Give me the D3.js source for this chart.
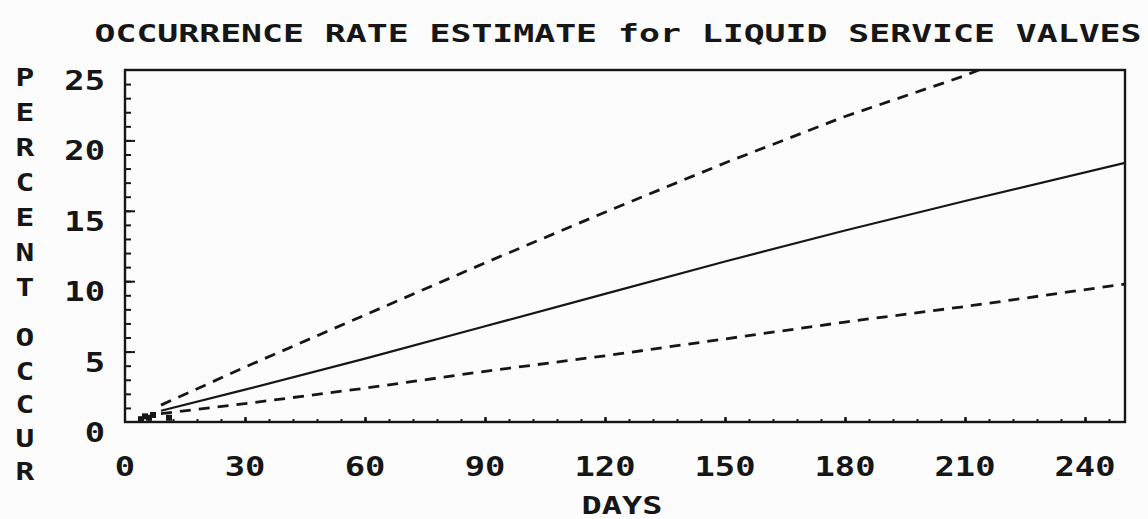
<!DOCTYPE html>
<html>
<head>
<meta charset="utf-8">
<script src="https://cdn.jsdelivr.net/npm/d3@7"></script>
<style>
	html, body { margin: 0; padding: 0; background: #fcfcfc; }
	svg text { font-family: "DejaVu Sans Mono", "Liberation Mono", monospace; font-weight: bold; fill: #161616; }
</style>
</head>
<body>
<div id="chart"></div>
<script>
// values
const days = [9, 30, 60, 90, 120, 150, 180, 210, 250];
const estimate = [0.8, 2.3, 4.5, 6.8, 9.1, 11.4, 13.6, 15.7, 18.4];
const upperBound = [1.2, 3.9, 7.6, 11.3, 14.9, 18.4, 21.7, 24.6, 29.3];
const lowerBound = [0.6, 1.3, 2.4, 3.6, 4.7, 5.9, 7.1, 8.2, 9.8];
// cluster of observed points near the origin
const obsDays = [4, 5, 6, 7, 11];
const obsValues = [0.2, 0.4, 0.3, 0.5, 0.3];

const xTicks = [0, 30, 60, 90, 120, 150, 180, 210, 240];
const yTicks = [0, 5, 10, 15, 20, 25];
const titleText = "OCCURRENCE RATE ESTIMATE for LIQUID SERVICE VALVES";
const yLabel1 = "PERCENT";
const yLabel2 = "OCCUR";
const xLabel = "DAYS";

const width = 1148, height = 519;
const margin = {top: 70, right: 23, bottom: 97, left: 125};
const ink = "#161616";

var svg = d3.select("#chart").append("svg")
	.attr("width", width)
	.attr("height", height);

var x = d3.scaleLinear().domain([0, 250]).range([margin.left, width - margin.right]);
var y = d3.scaleLinear().domain([0, 25]).range([height - margin.bottom, margin.top]);

// plotter style wide text
function wideText(str, tx, ty, size, sx, anchor) {
	return svg.append("text")
		.attr("transform", "translate(" + tx + "," + ty + ") scale(" + sx + ",1)")
		.attr("font-size", size)
		.attr("text-anchor", anchor || "middle")
		.text(str);
}

wideText(titleText, 618, 42, 24, 1.45);
wideText(xLabel, 622, 514, 24, 1.4);

// stacked y label
yLabel1.split("").forEach((c, i) => wideText(c, 25, 86 + i * 35, 24, 1.3));
yLabel2.split("").forEach((c, i) => wideText(c, 25, 346 + i * 33.5, 24, 1.3));

svg.append("defs").append("clipPath").attr("id", "plot")
	.append("rect")
	.attr("x", x(0)).attr("y", y(25))
	.attr("width", x(250) - x(0)).attr("height", y(0) - y(25));

// frame
svg.append("rect")
	.attr("x", x(0)).attr("y", y(25))
	.attr("width", x(250) - x(0)).attr("height", y(0) - y(25))
	.attr("fill", "none").attr("stroke", ink).attr("stroke-width", 2.4);

// x axis ticks (inward, every 6 days, bigger at 30)
var xMinor = d3.range(6, 250, 6);
var xAxis = svg.append("g").attr("transform", "translate(0," + y(0) + ")");
xAxis.call(d3.axisTop(x).tickValues(xMinor).tickSize(3).tickFormat(""));
xAxis.select(".domain").remove();
xAxis.selectAll("line").attr("stroke", ink).attr("stroke-width", 2);
var xMajor = svg.append("g").attr("transform", "translate(0," + y(0) + ")");
xMajor.call(d3.axisTop(x).tickValues(xTicks.slice(1)).tickSize(5).tickFormat(""));
xMajor.select(".domain").remove();
xMajor.selectAll("line").attr("stroke", ink).attr("stroke-width", 2.5);

// y axis ticks (inward, every unit, longer at 5)
var yAxis = svg.append("g").attr("transform", "translate(" + x(0) + ",0)");
yAxis.call(d3.axisRight(y).tickValues(d3.range(1, 25)).tickSize(6).tickFormat(""));
yAxis.select(".domain").remove();
yAxis.selectAll("line").attr("stroke", ink).attr("stroke-width", 2);
var yMajor = svg.append("g").attr("transform", "translate(" + x(0) + ",0)");
yMajor.call(d3.axisRight(y).tickValues(yTicks.slice(1, 5)).tickSize(10).tickFormat(""));
yMajor.select(".domain").remove();
yMajor.selectAll("line").attr("stroke", ink).attr("stroke-width", 2);

// tick labels
xTicks.forEach(d => wideText(String(d), x(d), 476, 26, 1.3));
yTicks.forEach(d => wideText(String(d), 105, y(d) + 20, 26, 1.3, "end"));

var line = d3.line()
	.x((d, i) => x(days[i]))
	.y(d => y(d));

var g = svg.append("g").attr("clip-path", "url(#plot)");
g.append("path").datum(estimate)
	.attr("d", line).attr("fill", "none")
	.attr("stroke", ink).attr("stroke-width", 2.2);
g.append("path").datum(upperBound)
	.attr("d", line).attr("fill", "none")
	.attr("stroke", ink).attr("stroke-width", 2.8)
	.attr("stroke-dasharray", "11,8");
g.append("path").datum(lowerBound)
	.attr("d", line).attr("fill", "none")
	.attr("stroke", ink).attr("stroke-width", 2.8)
	.attr("stroke-dasharray", "11,8");

g.selectAll("rect.obs").data(obsValues).enter().append("rect")
	.attr("class", "obs")
	.attr("x", (d, i) => x(obsDays[i]) - 3)
	.attr("y", d => y(d) - 3)
	.attr("width", 6).attr("height", 6)
	.attr("fill", ink);
</script>
</body>
</html>
